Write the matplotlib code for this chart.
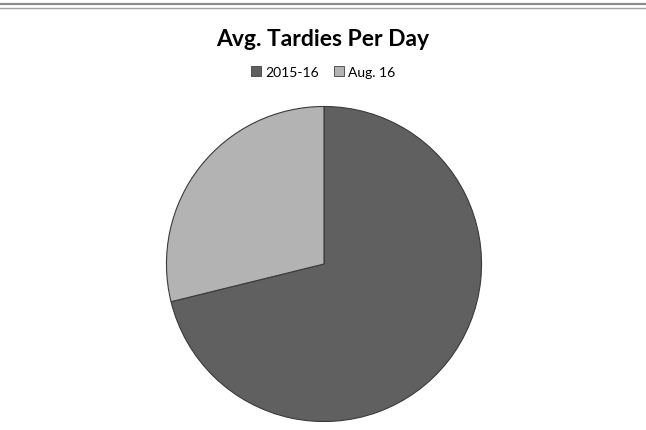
import matplotlib.pyplot as plt
from matplotlib.patches import Rectangle
from matplotlib.lines import Line2D

# data
labels = ['2015-16', 'Aug. 16']
values = [37, 15]
colors = ['#606060', '#b3b3b3']

W, H = 646, 431
fig = plt.figure(figsize=(W / 100, H / 100), dpi=100)

# double rule at the top
fig.add_artist(Line2D([0, 1], [1 - 4.5 / H, 1 - 4.5 / H], color='#8c8c8c', lw=1.6))
fig.add_artist(Line2D([0, 1], [1 - 8.5 / H, 1 - 8.5 / H], color='#a0a0a0', lw=1.0))

fig.text(0.5, 1 - 40 / H, 'Avg. Tardies Per Day', ha='center', va='center',
         fontsize=16.5, fontweight='bold', family='Lato', color='#000000')

# pie axes: centre (324, 265) px, radius 158 px
cx, cy, r = 324, 265, 158
ax = fig.add_axes([(cx - r) / W, (H - cy - r) / H, 2 * r / W, 2 * r / H])
ax.pie(values, colors=colors, startangle=90, counterclock=False,
       wedgeprops=dict(edgecolor='#3a3a3a', linewidth=0.8))
ax.set_xlim(-1.003, 1.003)
ax.set_ylim(-1.003, 1.003)
ax.set_aspect('equal')
ax.axis('off')

# legend
handles = [Rectangle((0, 0), 1, 1, facecolor=c, edgecolor='#404040', lw=0.6) for c in colors]
fig.legend(handles, labels, loc='center', bbox_to_anchor=(0.5, 1 - 73 / H), ncol=2,
           frameon=False, prop={'family': 'Lato', 'size': 10},
           handlelength=0.75, handleheight=0.75, handletextpad=0.25, columnspacing=1.1)

fig.savefig('out.png', dpi=100)
